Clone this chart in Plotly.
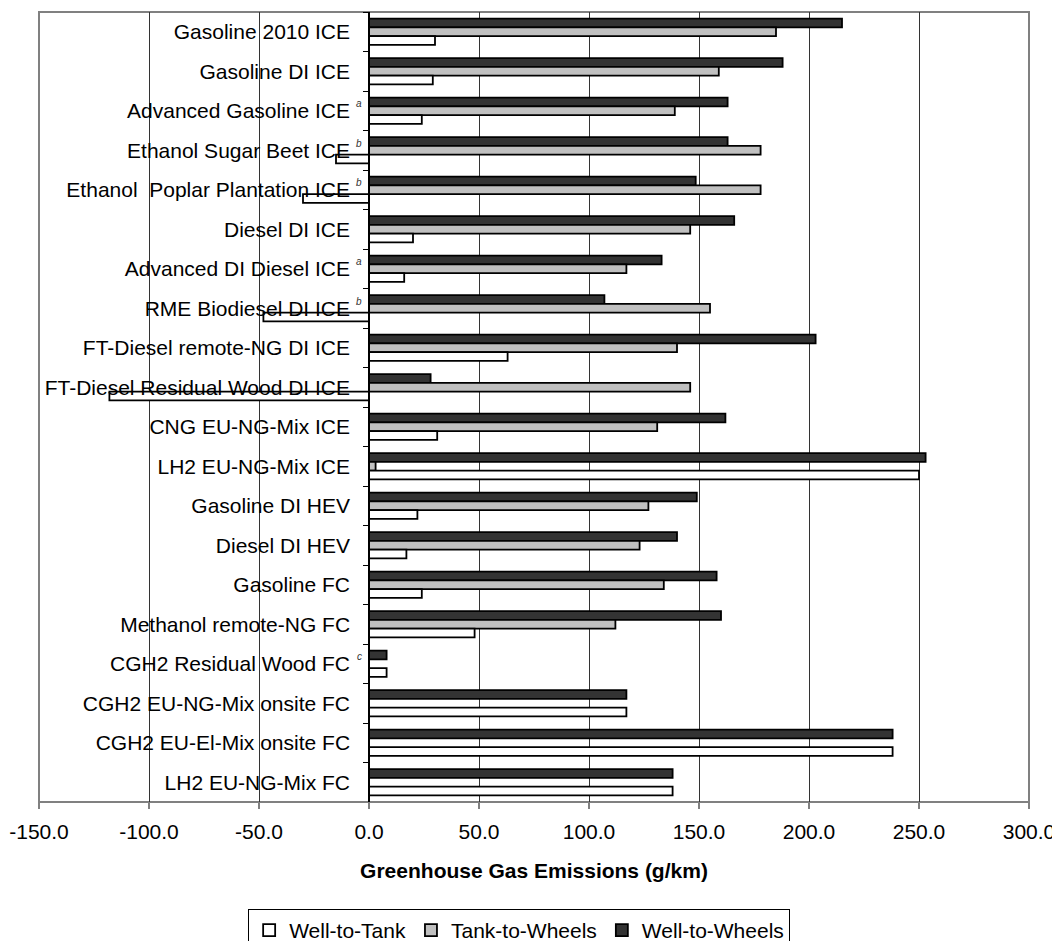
import plotly.graph_objects as go

# Vehicle / fuel pathways, top to bottom
pathways = [
    'Gasoline 2010 ICE',
    'Gasoline DI ICE',
    'Advanced Gasoline ICE',
    'Ethanol Sugar Beet ICE',
    'Ethanol\u00a0 Poplar Plantation ICE',
    'Diesel DI ICE',
    'Advanced DI Diesel ICE',
    'RME Biodiesel DI ICE',
    'FT-Diesel remote-NG DI ICE',
    'FT-Diesel Residual Wood DI ICE',
    'CNG EU-NG-Mix ICE',
    'LH2 EU-NG-Mix ICE',
    'Gasoline DI HEV',
    'Diesel DI HEV',
    'Gasoline FC',
    'Methanol remote-NG FC',
    'CGH2 Residual Wood FC',
    'CGH2 EU-NG-Mix onsite FC',
    'CGH2 EU-El-Mix onsite FC',
    'LH2 EU-NG-Mix FC',
]
footnotes = ['', '', 'a', 'b', 'b', '', 'a', 'b', '', '',
             '', '', '', '', '', '', 'c', '', '', '']

# g/km
well_to_tank = [30, 29, 24, -15, -30, 20, 16, -48, 63, -118,
                31, 250, 22, 17, 24, 48, 8, 117, 238, 138]
tank_to_wheels = [185, 159, 139, 178, 178, 146, 117, 155, 140, 146,
                  131, 3, 127, 123, 134, 112, 0, 0, 0, 0]
well_to_wheels = [215, 188, 163, 163, 148.5, 166, 133, 107, 203, 28,
                  162, 253, 149, 140, 158, 160, 8, 117, 238, 138]

x_ticks = [-150, -100, -50, 0, 50, 100, 150, 200, 250, 300]
x_tick_text = ['-150.0', '-100.0', '-50.0', '0.0', '50.0', '100.0',
               '150.0', '200.0', '250.0', '300.0']

FONT = 'Liberation Sans, Arial, sans-serif'

fig = go.Figure()

# first trace sits at the top of each group (y axis is reversed)
for name, vals, colour in [('Well-to-Wheels', well_to_wheels, '#333333'),
                           ('Tank-to-Wheels', tank_to_wheels, '#c0c0c0'),
                           ('Well-to-Tank', well_to_tank, '#ffffff')]:
    fig.add_trace(go.Bar(
        y=pathways, x=vals, name=name, orientation='h',
        marker=dict(color=colour, line=dict(color='black', width=1.8)),
    ))

# small footnote letters after some labels
for label, note in zip(pathways, footnotes):
    if note:
        fig.add_annotation(
            x=-4.5, y=label, xref='x', yref='y',
            text=f'<i>{note}</i>', showarrow=False,
            yshift=7, font=dict(size=10, color='#333333', family=FONT),
        )

# plot frame
fig.add_shape(type='rect', xref='paper', yref='paper', x0=0, y0=0, x1=1, y1=1,
              line=dict(color='#808080', width=2), layer='below')

# page body adds 8px offset, so the figure is 8px smaller and shifted
fig.update_layout(
    barmode='group',
    bargap=0.335,
    bargroupgap=0,
    width=1052, height=933,
    margin=dict(l=31, r=31, t=4, b=139, autoexpand=False),
    paper_bgcolor='white',
    plot_bgcolor='white',
    font=dict(family=FONT, size=21, color='black'),
    xaxis=dict(
        range=[-150, 300],
        tickvals=x_ticks,
        ticktext=x_tick_text,
        showgrid=True, gridcolor='#333333', gridwidth=1,
        zeroline=False,
        showline=False,
        ticks='outside', ticklen=6, tickcolor='#808080', tickwidth=2,
        ticklabelstandoff=5,
        title=dict(text='<b>Greenhouse Gas Emissions (g/km)</b>',
                   font=dict(size=21), standoff=21),
    ),
    yaxis=dict(
        autorange='reversed',
        anchor='free', position=1 / 3,
        showline=True, linecolor='black', linewidth=1.5,
        ticks='outside', tickson='boundaries', ticklen=5,
        tickcolor='black', tickwidth=1,
        ticklabelstandoff=14,
        showgrid=False,
        tickfont=dict(size=21),
    ),
    legend=dict(
        orientation='h',
        traceorder='reversed',
        x=0.485, xanchor='center',
        y=-0.1354, yanchor='top',
        bordercolor='black', borderwidth=1,
        bgcolor='white',
        font=dict(size=21),
        itemwidth=30,
    ),
    showlegend=True,
)

fig.write_html('out.html')
